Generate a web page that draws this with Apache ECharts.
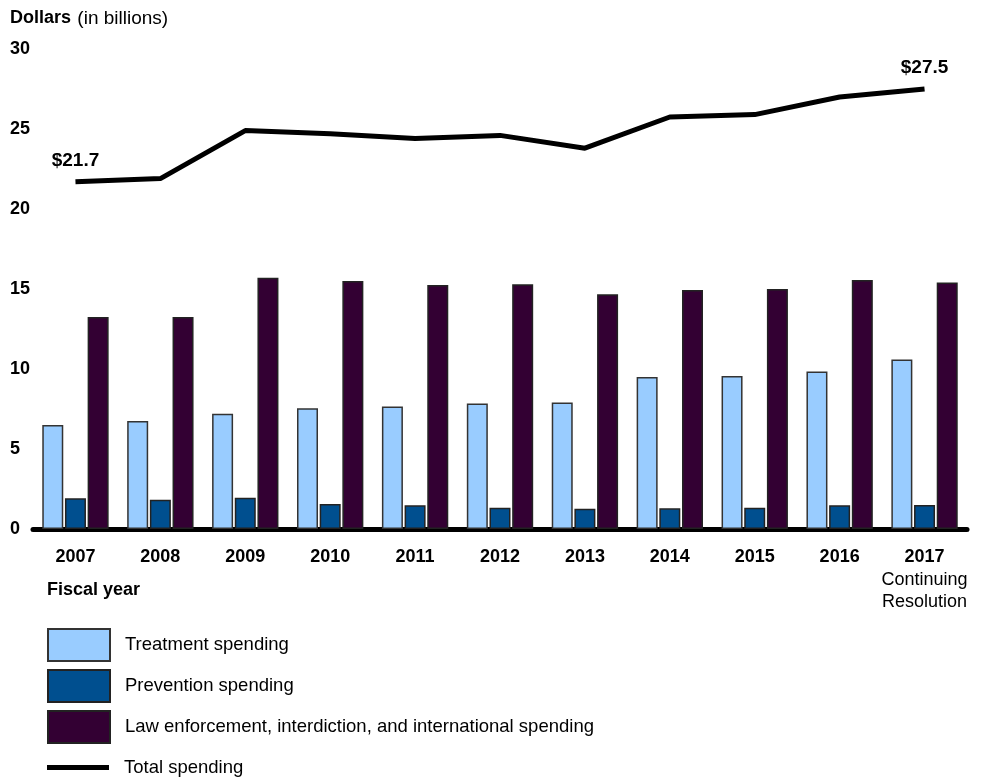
<!DOCTYPE html>
<html>
<head>
<meta charset="utf-8">
<script src="https://cdn.jsdelivr.net/npm/echarts@6/dist/echarts.min.js"></script>
<style>html,body{margin:0;padding:0;background:#fff}#c{width:985px;height:777px}</style>
</head>
<body>
<div id="c"></div>
<script>
var years = ['2007','2008','2009','2010','2011','2012','2013','2014','2015','2016','2017'];
var treatment = [6.5, 6.75, 7.2, 7.55, 7.65, 7.85, 7.9, 9.5, 9.56, 9.85, 10.6];
var prevention = [1.92, 1.83, 1.96, 1.56, 1.48, 1.33, 1.27, 1.29, 1.33, 1.48, 1.5];
var lawEnforcement = [13.25, 13.25, 15.7, 15.5, 15.25, 15.3, 14.67, 14.94, 15.0, 15.56, 15.4];
var total = [21.7, 21.9, 24.9, 24.7, 24.4, 24.6, 23.8, 25.75, 25.9, 27.0, 27.5];
var yTicks = [0, 5, 10, 15, 20, 25, 30];

var FONT = 'Liberation Sans, Arial, sans-serif';
var chart = echarts.init(document.getElementById('c'));
var lastIdx = total.length - 1;
chart.setOption({
  animation: false,
  textStyle: {fontFamily: FONT, color: '#000'},
  grid: {left: 33, right: 18, top: 49, bottom: 248, containLabel: false},
  xAxis: {
    type: 'category',
    data: years,
    axisLine: {lineStyle: {color: '#000', width: 5}},
    axisTick: {show: false},
    axisLabel: {
      margin: 16,
      interval: 0,
      formatter: function (v, i) {
        if (i === lastIdx) return '{b|' + v + '}\n{n|Continuing}\n{n|Resolution}';
        return '{b|' + v + '}';
      },
      rich: {
        b: {fontFamily: FONT, fontSize: 18, fontWeight: 'bold', color: '#000', lineHeight: 24},
        n: {fontFamily: FONT, fontSize: 18, color: '#000', lineHeight: 22}
      }
    }
  },
  yAxis: {
    type: 'value',
    min: yTicks[0], max: yTicks[yTicks.length - 1], interval: 5,
    axisLine: {show: false},
    axisTick: {show: false},
    splitLine: {show: false},
    axisLabel: {align: 'left', margin: 23, fontFamily: FONT, fontSize: 18, fontWeight: 'bold', color: '#000'}
  },
  legend: [
    {
      orient: 'vertical',
      left: 47, top: 628, padding: 0,
      itemWidth: 62, itemHeight: 32, itemGap: 7,
      icon: 'rect',
      textStyle: {fontFamily: FONT, fontSize: 18.5, color: '#000', padding: [0, 0, 0, 10]},
      data: [
        {name: 'Treatment spending'},
        {name: 'Prevention spending'},
        {name: 'Law enforcement, interdiction, and international spending'}
      ]
    },
    {
      orient: 'vertical',
      left: 47, top: 758, padding: 0,
      itemWidth: 62, itemHeight: 5,
      icon: 'rect',
      itemStyle: {color: '#000', borderWidth: 0},
      textStyle: {fontFamily: FONT, fontSize: 18.5, color: '#000', padding: [0, 0, 0, 10]},
      data: [{name: 'Total spending'}]
    }
  ],
  graphic: [
    {type: 'text', left: 10, top: 9, style: {
      rich: {
        b: {fontFamily: FONT, fontSize: 18, fontWeight: 'bold', fill: '#000'},
        n: {fontFamily: FONT, fontSize: 19, fill: '#000', padding: [0, 0, 0, 3]}
      },
      text: '{b|Dollars} {n|(in billions)}'
    }},
    {type: 'text', left: 47, top: 581, style: {
      text: 'Fiscal year', fontFamily: FONT, fontSize: 18, fontWeight: 'bold', fill: '#000'
    }}
  ],
  series: [
    {name: 'Treatment spending', type: 'bar', data: treatment, barWidth: 21, barGap: '8%', barCategoryGap: '21%',
      itemStyle: {color: '#99ccff', borderColor: '#333', borderWidth: 1.5}},
    {name: 'Prevention spending', type: 'bar', data: prevention, barWidth: 21, barGap: '8%',
      itemStyle: {color: '#004f8f', borderColor: '#222', borderWidth: 1.5}},
    {name: 'Law enforcement, interdiction, and international spending', type: 'bar', data: lawEnforcement, barWidth: 21, barGap: '8%',
      itemStyle: {color: '#330033', borderColor: '#222', borderWidth: 1.5}},
    {name: 'Total spending', type: 'line', symbol: 'circle', symbolSize: 0, showSymbol: true, z: 5,
      lineStyle: {color: '#000', width: 5}, itemStyle: {color: '#000'},
      data: total.map(function (v, i) {
        var o = {value: v};
        if (i === 0 || i === lastIdx) {
          o.label = {show: true, position: 'top', distance: 12,
            formatter: '$' + v.toFixed(1),
            fontFamily: FONT, fontSize: 19, fontWeight: 'bold', color: '#000'};
        }
        return o;
      })
    }
  ]
});
</script>
</body>
</html>
